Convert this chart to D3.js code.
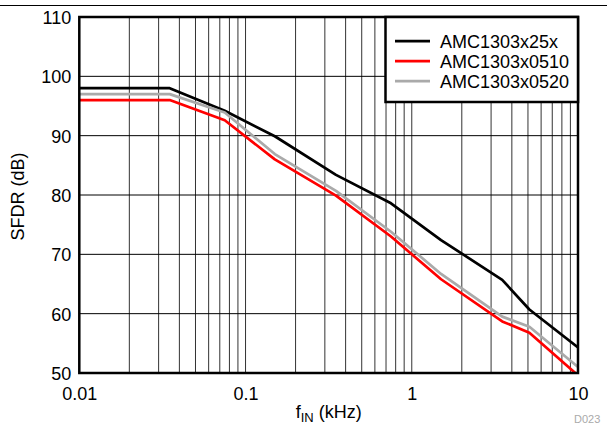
<!DOCTYPE html>
<html><head><meta charset="utf-8">
<script src="https://cdn.jsdelivr.net/npm/d3@7"></script>
<style>body{margin:0;background:#fff}svg{display:block}text{font-family:"Liberation Sans",Arial,Helvetica,sans-serif}</style>
</head><body><svg id="c" width="607" height="424"></svg>
<script>
const freqs = [0.01, 0.035, 0.075, 0.15, 0.35, 0.75, 1.5, 3.5, 5.1, 10];
const amc25x = [98, 98, 94.2, 89.9, 83.4, 78.6, 72.4, 65.7, 60.7, 54.3];
const amc0510 = [96, 96, 92.6, 86.0, 79.9, 73.0, 65.8, 58.7, 56.8, 49.6];
const amc0520 = [97, 97, 93.9, 86.9, 80.7, 73.8, 66.7, 59.5, 57.8, 51.0];
const seriesNames = ["AMC1303x25x", "AMC1303x0510", "AMC1303x0520"];
const seriesColors = ["#000000", "#ff0000", "#aaaaaa"];
const xTicks = [0.01, 0.1, 1, 10];
const xTickLabels = ["0.01", "0.1", "1", "10"];
const yTicks = [50, 60, 70, 80, 90, 100, 110];

const svg = d3.select("#c");
const L = 79.3, R = 578, T = 17, B = 373;
const x = d3.scaleLog().domain([0.01, 10]).range([L, R]);
const y = d3.scaleLinear().domain([50, 110]).range([B, T]);

// top rule
svg.append("line").attr("x1", 0).attr("x2", 607).attr("y1", 5.5).attr("y2", 5.5)
  .attr("stroke", "#000").attr("stroke-width", 1);

// grid
const minor = [];
for (let d = 0.01; d < 10; d *= 10) for (let k = 1; k <= 9; k++) minor.push(+(d * k).toPrecision(3));
const g = svg.append("g");
g.selectAll("line.v").data(minor).join("line")
  .attr("x1", d => x(d)).attr("x2", d => x(d)).attr("y1", T).attr("y2", B)
  .attr("stroke", "#333").attr("stroke-width", 1);
g.selectAll("line.h").data(yTicks).join("line")
  .attr("x1", L).attr("x2", R).attr("y1", d => y(d)).attr("y2", d => y(d))
  .attr("stroke", "#000").attr("stroke-width", 1);

// clip
svg.append("clipPath").attr("id", "clip").append("rect")
  .attr("x", L).attr("y", T).attr("width", R - L).attr("height", B - T);

const series = [amc25x, amc0510, amc0520];
const line = d3.line().x((d, i) => x(freqs[i])).y(d => y(d));
const drawOrder = [0, 2, 1];
svg.append("g").attr("clip-path", "url(#clip)").selectAll("path")
  .data(drawOrder).join("path")
  .attr("d", i => line(series[i])).attr("fill", "none")
  .attr("stroke", i => seriesColors[i]).attr("stroke-width", 2.7)
  .attr("stroke-linejoin", "round");

// frame
svg.append("rect").attr("x", L).attr("y", T).attr("width", R - L).attr("height", B - T)
  .attr("fill", "none").attr("stroke", "#000").attr("stroke-width", 2.5);

// axes labels
const xAxis = d3.axisBottom(x).tickValues(xTicks).tickFormat((d, i) => xTickLabels[i]).tickSize(0).tickPadding(0);
const xa = svg.append("g").attr("transform", `translate(0,${B})`).call(xAxis);
xa.select(".domain").remove();
xa.selectAll("text").attr("font-size", 18).attr("fill", "#000").attr("dy", null).attr("y", 27)
  .attr("font-family", '"Liberation Sans",Arial,sans-serif');

const yAxis = d3.axisLeft(y).tickValues(yTicks).tickSize(0).tickPadding(0);
const ya = svg.append("g").attr("transform", `translate(${L - 8},0)`).call(yAxis);
ya.select(".domain").remove();
ya.selectAll("text").attr("font-size", 18).attr("fill", "#000").attr("dy", "0.36em")
  .attr("font-family", '"Liberation Sans",Arial,sans-serif');

// axis titles
svg.append("text").attr("transform", "translate(24,196.5) rotate(-90)")
  .attr("text-anchor", "middle").attr("font-size", 18).text("SFDR (dB)");
const xt = svg.append("text").attr("x", (L + R) / 2).attr("y", 418).attr("text-anchor", "middle").attr("font-size", 18);
xt.append("tspan").text("f");
xt.append("tspan").attr("font-size", 13).attr("dy", 4).text("IN");
xt.append("tspan").attr("dy", -4).text(" (kHz)");

svg.append("text").attr("x", 574).attr("y", 423).attr("font-size", 11).attr("fill", "#aaa").text("D023");

// legend
const lg = svg.append("g");
lg.append("rect").attr("x", 385.5).attr("y", T).attr("width", R - 385.5).attr("height", 102 - T)
  .attr("fill", "#fff").attr("stroke", "#000").attr("stroke-width", 2.5);
const rows = [41.2, 61.2, 81.2];
seriesNames.forEach((n, i) => {
  lg.append("line").attr("x1", 395).attr("x2", 430).attr("y1", rows[i]).attr("y2", rows[i])
    .attr("stroke", seriesColors[i]).attr("stroke-width", 2.7);
  lg.append("text").attr("x", 440).attr("y", rows[i]).attr("dy", "0.36em").attr("font-size", 18).text(n);
});
</script></body></html>
